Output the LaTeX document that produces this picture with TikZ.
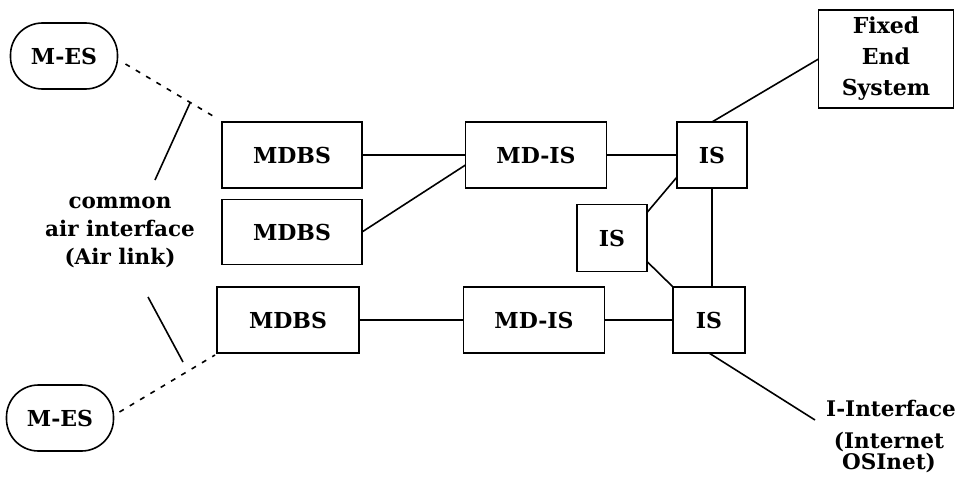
\documentclass[tikz,border=0pt]{standalone}
\usepackage{fontspec}
\setmainfont{DejaVu Serif}
\begin{document}
\begin{tikzpicture}[x=1pt,y=-1pt,line width=1.6pt,
  blk/.style={draw,minimum height=66pt,inner sep=0pt,outer sep=0pt,align=center,font=\fontsize{22}{31}\selectfont\bfseries},
  mobile/.style={blk,rounded corners=32pt,minimum width=107pt},
  note/.style={inner sep=0pt,align=center,font=\fontsize{21.5}{28}\selectfont\bfseries},
  radio/.style={dash pattern=on 5pt off 7pt}]
\useasboundingbox (0,0) rectangle (957,479);
% mobile end systems
\node[mobile](mesa) at (64,56){M-ES};
\node[mobile](mesb) at (60,418){M-ES};
% base stations
\node[blk,minimum width=140pt](mdbsa) at (292,155){MDBS};
\node[blk,minimum width=140pt,minimum height=65pt](mdbsb) at (292,232){MDBS};
\node[blk,minimum width=142pt](mdbsc) at (288,320){MDBS};
\node[blk,minimum width=141pt](mdisa) at (536,155){MD-IS};
\node[blk,minimum width=141pt](mdisb) at (534,320){MD-IS};
\node[blk,minimum width=70pt](isa) at (712,155){IS};
\node[blk,minimum width=70pt,minimum height=67pt](isb) at (612,238){IS};
\node[blk,minimum width=72pt](isc) at (709,320){IS};
\node[blk,minimum width=135pt,minimum height=98pt](fes) at (886,59){Fixed\\End\\System};
% labels
\node[note](air) at (120,232){common\\air interface\\(Air link)};
\node[note](iif) at (891,408){I-Interface};
\node[note,font=\fontsize{21.5}{21}\selectfont\bfseries](inet) at (889,452){(Internet\\OSInet)};
\coordinate (ta) at (213,116);
\coordinate (tb) at (215,355);
\coordinate (a1) at (190,103);
\coordinate (a2) at (155,180);
\coordinate (a3) at (148,297);
\coordinate (a4) at (183,362);
\coordinate (ie) at (815,420);
% air links
\draw[radio] ([shift={(8,8)}]mesa.east) -- (ta);
\draw[radio] ([shift={(6,-6)}]mesb.east) -- (tb);
\draw (a1) -- (a2);
\draw (a3) -- (a4);
% wired links
\draw (mdbsa) -- (mdisa);
\draw (mdbsb.east) -- ([shift={(0,10)}]mdisa.west);
\draw (mdisa) -- (isa);
\draw (mdbsc) -- (mdisb);
\draw (mdisb) -- (isc);
\draw ([shift={(0,8)}]isb.north east) -- ([shift={(0,-11)}]isa.south west);
\draw ([shift={(0,-10)}]isb.south east) -- (isc.north west);
\draw (isa.south) -- (isa.south |- isc.north);
\draw (isa.north) -- (fes.west);
\draw (isc.south) -- (ie);
\end{tikzpicture}
\end{document}
